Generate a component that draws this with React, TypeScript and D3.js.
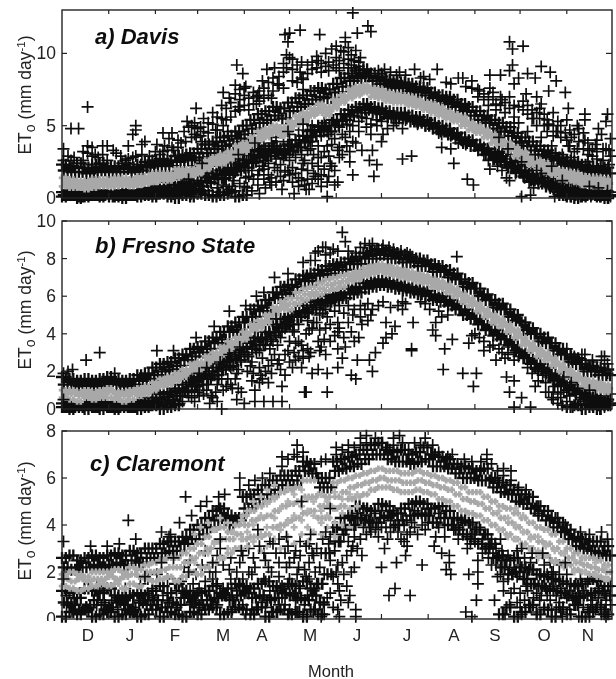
import React from "react";
import * as d3 from "d3";

const monthLabels = ["D","J","F","M","A","M","J","J","A","S","O","N"];
const monthLabelX = [88,130,175,223,262,310,357,407,454,495,544,588];
const monthStartDays = [31,62,90,121,151,182,212,243,274,304,335];

type Row = number[];
const gap = (n: number) => Array(n).fill(null);

// ---------- a) Davis ----------
const davisTop1 = [2.3,2.2,2.4,2.1,2.3,2.4,2.2,2.2,2.4,2.1,2.3,2.5,2.6,2.7,2.6,2.9,3.0,3.1,3.4,3.7,3.9,4.2,4.3,4.6,5.0,5.4,5.8,6.0,6.3,6.2,6.6,6.9,7.1,7.4,7.6,7.5,7.9,8.3,8.6,8.8,8.9,8.6,8.4,8.2,8.1,8.0,7.9,7.7,7.6,7.3,7.1,7.0,6.8,6.5,6.3,6.0,5.7,5.4,5.2,4.9,4.5,4.2,3.9,3.6,3.3,3.1,2.8,2.6,2.5,2.3,2.2,2.2,2.1];
const davisTop2 = [1.9,1.8,1.8,1.7,1.8,1.9,1.8,1.8,2.0,1.8,1.9,2.1,2.2,2.2,2.2,2.5,2.6,2.6,2.8,3.1,3.4,3.6,3.7,4.1,4.4,4.8,5.2,5.4,5.7,5.5,6.0,6.3,6.5,6.8,7.0,6.9,7.3,7.7,8.1,8.3,8.4,8.1,7.9,7.7,7.6,7.6,7.4,7.3,7.1,6.9,6.7,6.5,6.3,6.0,5.7,5.4,5.2,4.8,4.6,4.3,3.9,3.6,3.3,3.0,2.8,2.6,2.3,2.2,2.1,1.9,1.8,1.8,1.7];
const davisGrayHi = [1.4,1.3,1.2,1.2,1.3,1.3,1.3,1.4,1.4,1.3,1.5,1.5,1.7,1.7,1.7,2.0,2.0,2.0,2.3,2.6,2.8,3.0,3.2,3.6,3.8,4.2,4.6,4.8,5.0,4.9,5.3,5.7,5.9,6.2,6.5,6.3,6.8,7.1,7.5,7.7,7.8,7.6,7.5,7.3,7.2,7.1,7.0,6.8,6.6,6.5,6.3,6.0,5.8,5.6,5.2,5.0,4.7,4.4,4.1,3.8,3.5,3.2,2.9,2.6,2.4,2.1,1.9,1.8,1.7,1.5,1.4,1.4,1.3];
const davisGrayMid = [1.1,1.0,1.0,0.9,1.0,1.1,1.0,1.1,1.2,1.0,1.2,1.3,1.4,1.5,1.4,1.7,1.8,1.7,2.0,2.3,2.6,2.7,2.9,3.3,3.5,3.9,4.3,4.5,4.8,4.6,5.0,5.4,5.6,5.9,6.2,6.0,6.5,6.8,7.2,7.4,7.6,7.3,7.2,7.0,6.9,6.9,6.7,6.6,6.4,6.2,6.0,5.8,5.6,5.3,5.0,4.7,4.5,4.1,3.9,3.5,3.2,2.9,2.6,2.3,2.1,1.9,1.6,1.5,1.4,1.2,1.1,1.1,1.0];
const davisGrayLo = [0.8,0.7,0.7,0.6,0.7,0.8,0.8,0.8,0.9,0.8,0.9,1.0,1.1,1.2,1.2,1.4,1.5,1.5,1.7,2.0,2.3,2.4,2.6,3.0,3.2,3.6,4.0,4.2,4.5,4.3,4.7,5.1,5.3,5.7,5.9,5.7,6.2,6.6,6.9,7.1,7.3,7.0,6.9,6.7,6.6,6.6,6.4,6.3,6.1,5.9,5.7,5.5,5.3,5.0,4.7,4.5,4.2,3.8,3.6,3.3,2.9,2.6,2.3,2.0,1.8,1.6,1.3,1.2,1.1,0.9,0.8,0.8,0.7];
const davisLow1 = [.4,.3,.4,.3,.4,.5,.4,.4,.5,.4,.5,.6,.7,.8,.7,.9,1.0,1.0,1.2,1.5,1.7,1.9,2.0,2.4,2.6,3.0,3.3,3.4,3.6,3.4,3.7,4.0,4.3,4.7,5.0,5.0,5.4,5.8,6.1,6.3,6.5,6.3,6.2,6.0,5.9,5.9,5.7,5.6,5.4,5.2,5.0,4.8,4.5,4.2,4.0,3.7,3.4,3.1,2.9,2.5,2.2,1.9,1.6,1.4,1.2,1.0,.8,.7,.6,.5,.4,.4,.4];
const davisLow2 = [.2,.2,.1,.2,.2,.2,.1,.2,.2,.2,.3,.3,.3,.4,.3,.5,.6,.6,.8,1.1,1.3,1.4,1.6,1.9,2.1,2.5,2.8,2.9,3.1,3.0,3.3,3.5,3.9,4.3,4.6,4.6,5.0,5.4,5.7,5.9,6.1,5.9,5.8,5.6,5.5,5.5,5.3,5.2,5.0,4.8,4.6,4.4,4.1,3.8,3.6,3.3,3.0,2.7,2.5,2.1,1.8,1.5,1.2,1.0,.8,.6,.4,.3,.3,.2,.2,.2,.2];
const davisFloor = [.1,.2,.0,.1,.2,.1,.3,.1,.0,.2,.1,.2,.1,.3,.1,.0,.2,.1,.3,.2,.1,.2,.4,.1,.2,...gap(41),.2,.1,.0,.1,.3,.1,.0];
const davisGrayExtra: Row[] = [];
const davisDense: Row[] = [
  [8,2.8],[22,3.0],[39,2.9],[42,2.6],[58,.7,1.4,2.9],[62,.8,3.2],[65,.5,1.1,3.0],[68,.8,.4,3.6],[71,1.2,.6,4.1],[74,.9,.3,3.3],[77,1.3,.5,3.5,4.0],[79,.8,1.6,3.8],[81,1.1,2.0,4.6],[86,.9,1.8,.3,4.2,5.0],[88,.5,2.2,4.4,5.2],[92,1.1,1.9,.4,4.3,4.9],[94,.8,2.5,4.6,5.5],[97,1.7,.5,2.8,4.5,5.2],[99,1.0,2.2],[103,1.6,.7,2.9,4.7,5.6],[104,2.4,.4],[106,5.5,6.4],[107,1.9,.9,3.1],[108,2.6,1.3],[109,5.4,6.2],[111,1.7,.6,3.3],[112,5.6,6.6],[114,2.5,1.2,3.6],[115,1.8,.5,6.0,7.2,7.8],[118,2.7,1.0,3.3,6.1,6.8,7.5],[119,1.9,3.9],[121,3.0,2.1,.8,6.4,7.6],[124,2.6,1.5,3.4,4.1,6.1,6.9],[126,3.2,1.9,.5],[127,2.4,1.3,3.7,6.5,7.3],[130,2.8,1.6,.9,4.0],[131,1.9,3.4,6.7,7.4],[134,3.0,2.0,1.3,3.6,6.9,7.6],[135,2.6,.7],[137,3.4,1.6,2.4,7.1,8.0],[139,2.9,1.4,.9],[140,7.4,8.3],[141,3.6,2.1],[142,2.7,1.1,4.2],[144,7.8,8.4],[145,3.3,2.3,1.5],[147,3.9,2.8,1.2,4.5,7.6,8.7,9.3],[148,3.1,1.8],[151,2.6,1.6,3.6,4.4],[153,3.2,2.1,1.1,8.1,8.9,9.6],[155,4.0,2.8,1.7],[156,8.0,9.2],[157,3.5,1.4,.8,4.7],[159,3.0,2.0,1.2,8.3,9.4],[161,3.8,2.6,.9],[163,3.3,1.9,1.3,4.6,8.6,9.2],[166,2.4,3.9,1.0,5.0,8.9,9.4],[167,3.0,1.7],[169,9.0,9.8],[170,3.6,2.2,1.3,4.9],[172,2.8,1.6,.8,4.3,8.7,9.3],[174,3.2,2.0,5.2],[175,9.1,10.0],[177,4.4,2.9,1.5,9.4,8.8],[179,3.7,2.2,5.4],[181,4.1,1.9,.9],[182,9.0,9.7,10.5],[184,4.9,3.5,2.8,8.8,9.5],[186,4.4,5.3,3.0],[187,9.3,10.1],[189,5.1,3.6],[190,9.0,9.6,10.4],[191,4.6,3.2,5.6],[192,9.2,9.9],[193,5.0,3.9],[194,9.5,9.0],[197,5.3,4.6,9.1,9.4],[199,5.6,3.3],[200,8.9],[202,4.9,5.5],[205,5.1,4.4],[209,5.4,5.0],[210,8.8],[212,5.3,3.9,8.6],[216,5.5,4.8],[218,8.7],[220,5.6,5.0],[222,8.5],[228,5.4,8.5],[235,5.3],[238,8.3],[241,5.0],[244,5.2,8.2],[250,4.9,4.5],[255,4.6,8.0],[258,4.3,3.4,7.9],[262,4.4],[265,4.0],[268,3.7,7.7],[272,7.6,8.1],[276,7.5,7.0],[280,7.2,6.8,3.5,3.0],[283,7.0,6.4,3.4,2.6],[286,6.8,7.3],[287,2.7,3.2],[288,6.5,6.1],[289,2.2,3.0],[291,6.4,7.0],[292,3.1,1.9],[294,6.6,5.9],[295,2.7,2.3,1.4],[297,6.2,7.0],[298,2.2,3.0],[300,6.4,5.6],[301,2.6,1.7],[303,6.3,5.2],[304,1.9,2.8],[306,6.1,6.7],[307,2.3,1.4],[309,5.8,6.4],[310,2.6,1.7,1.1],[312,5.5,6.1,2.1,1.3],[315,5.9,5.0],[316,2.4,1.2],[317,5.5,6.2],[319,1.4,2.1],[320,5.0,5.8],[321,1.9,1.0],[322,5.4,4.6],[324,1.4,.7],[326,5.0,5.9,4.3,1.1,1.8],[329,4.6,5.3,.9,.4],[331,4.2,5.0,1.5,.5],[334,.7,.2],[335,4.0,5.4],[336,.5,1.0],[337,4.7,3.6],[339,.3,.7],[340,4.4,3.2],[341,.6,.2],[343,3.9,4.8],[344,.5,.1],[346,3.4,4.5],[347,.8,.3],[349,3.8,3.0],[352,3.4,2.9,.3,.5],[355,3.2,2.7,4.0,.2,.4],[359,3.4,2.6],[360,.2,.3],[364,2.9,4.1,.1,.4]
];
const davisScatter: Row[] = [
  [1,3.4,2.6],[4,2.9],[6,4.8,2.6],[11,4.8],[14,3.2,2.6],[17,6.3,3.6,3.1],[20,3.5,2.9],[24,2.8],[27,3.6,3.0],[30,3.6,2.6],[34,3.3],[36,3.1],[44,3.6,2.7],[47,4.4,2.8],[49,5.0,4.7,2.9],[53,3.7,3.0],[55,3.9],[63,3.7],[67,4.5,3.2],[70,3.3],[73,4.5,3.5],[82,3.9,.6],[83,5.3,.8],[84,4.9,1.3],[89,6.2,4.2],[90,4.8],[91,.6],[93,2.4,3.9],[95,3.7],[96,1.4],[100,5.9,5.1,.2],[102,4.7],[106,1.4],[107,7.3,5.0],[109,.8],[110,.3,4.6],[111,6.9],[112,2.1],[113,.8],[116,9.2],[117,6.3,3.0],[120,8.6,.2],[121,7.1],[122,7.7,1.4],[123,.7],[128,3.8],[129,6.5,7.0],[130,7.1],[131,.3],[132,3.2],[133,8.1,2.2],[136,8.9],[138,1.1],[139,6.9,3.8],[141,9.0],[143,7.9,3.2,1.9],[146,.6],[148,11.3],[149,9.9,9.0],[150,10.8,4.6,1.9],[151,11.4,9.7],[152,3.6],[154,.3],[158,11.6,8.7],[160,8.2,7.5,5.1,4.3,2.4],[162,.6],[164,.6],[165,4.2,3.4],[168,1.5],[169,4.3],[170,9.5,2.8],[171,11.3],[176,3.6,1.1,.1],[178,2.4],[179,10.3],[180,9.2],[183,3.3,1.1],[185,10.2],[188,11.1,10.8,4.2],[191,2.5],[193,12.8,1.6],[195,10.2,3.8],[196,11.4],[198,9.7],[203,11.9],[204,2.6],[205,11.5],[206,3.3],[207,1.5],[209,2.3],[213,4.4],[214,8.9],[222,5.2],[224,8.7],[226,4.8,2.7],[232,2.9],[234,8.9],[236,5.1],[240,8.4],[246,4.8],[249,8.9],[252,4.4,3.5],[260,2.4],[263,8.3,3.8],[266,8.3],[269,1.3],[273,.9],[274,3.6],[277,7.4],[284,8.5,7.6,2.0],[290,2.6,3.2,4.2],[291,8.5],[292,6.8],[296,2.1,3.4],[297,10.8,8.8,1.2],[299,10.3,9.2],[300,7.9,5.2],[303,8.3],[305,2.5,.1,3.8],[306,10.5],[308,7.2],[309,8.6,4.6],[311,.2],[313,.7,5.5],[314,8.3,3.0],[315,7.0,1.9],[318,9.1,6.5,1.7,4.2],[323,7.4,5.1],[324,8.7],[325,.8,2.2,3.6],[327,.1],[328,8.1,4.6],[332,1.2,3.0],[334,7.3,4.5],[336,6.2,3.6],[338,2.8,.1,4.2],[342,5.0,3.4],[345,.2],[347,5.8,5.4,4.0],[349,2.5],[350,.8,3.3],[351,.1],[354,3.7],[356,4.8,2.0,.7],[357,.1],[358,4.4],[361,5.3,3.4],[362,5.8,.5,0],[363,3.3,2.3]
];

// ---------- b) Fresno State ----------
const fresnoTop1 = [1.7,1.6,1.5,1.6,1.5,1.6,1.7,1.6,1.5,1.6,1.8,1.9,2.2,2.4,2.5,2.7,2.9,3.2,3.3,3.6,3.8,4.1,4.4,4.6,4.9,5.3,5.5,5.8,6.2,6.5,6.6,6.9,7.1,7.2,7.4,7.6,7.7,7.8,8.0,8.1,8.3,8.4,8.5,8.4,8.3,8.2,8.1,8.0,7.9,7.7,7.6,7.4,7.2,6.9,6.7,6.4,6.1,5.8,5.6,5.3,5.0,4.6,4.3,4.0,3.8,3.5,3.2,2.9,2.7,2.4,2.3,2.2,2.1];
const fresnoTop2 = [1.3,1.3,1.2,1.3,1.2,1.3,1.4,1.3,1.2,1.3,1.5,1.6,1.8,2.0,2.1,2.3,2.6,2.8,3.0,3.2,3.5,3.7,4.1,4.2,4.6,4.9,5.2,5.4,5.9,6.1,6.2,6.5,6.8,6.8,7.1,7.2,7.4,7.4,7.7,7.7,8.0,8.0,8.2,8.0,8.0,7.8,7.8,7.6,7.6,7.3,7.3,7.0,6.9,6.5,6.4,6.0,5.8,5.4,5.3,4.9,4.7,4.2,4.0,3.6,3.5,3.1,2.9,2.5,2.4,2.0,2.0,1.8,1.8];
const fresnoGrayHi = [1.0,1.0,.9,1.0,.9,1.0,1.1,.9,.9,1.0,1.1,1.2,1.4,1.6,1.7,1.9,2.1,2.4,2.5,2.8,3.0,3.3,3.6,3.8,4.1,4.5,4.7,5.0,5.4,5.7,5.9,6.2,6.4,6.5,6.7,6.9,7.0,7.1,7.2,7.3,7.5,7.6,7.7,7.6,7.5,7.4,7.3,7.2,7.1,6.9,6.8,6.6,6.4,6.1,5.9,5.6,5.3,5.0,4.8,4.5,4.2,3.8,3.5,3.2,3.0,2.7,2.4,2.1,1.9,1.6,1.5,1.4,1.3];
const fresnoGrayMid = [.8,.8,.7,.8,.7,.8,.9,.7,.7,.8,.9,1.0,1.2,1.4,1.5,1.7,1.9,2.2,2.3,2.6,2.8,3.1,3.4,3.6,3.9,4.3,4.5,4.8,5.2,5.5,5.6,5.9,6.1,6.2,6.4,6.6,6.7,6.8,7.0,7.1,7.3,7.4,7.5,7.4,7.3,7.2,7.1,7.0,6.9,6.7,6.6,6.4,6.2,5.9,5.7,5.4,5.1,4.8,4.6,4.3,4.0,3.6,3.3,3.0,2.8,2.5,2.2,1.9,1.7,1.4,1.3,1.2,1.1];
const fresnoGrayLo = [.6,.5,.4,.6,.5,.6,.6,.5,.4,.5,.7,.8,1.0,1.2,1.3,1.5,1.7,2.0,2.1,2.4,2.6,2.9,3.2,3.4,3.7,4.1,4.3,4.6,5.0,5.3,5.3,5.6,5.8,6.0,6.1,6.3,6.4,6.5,6.8,6.9,7.1,7.2,7.3,7.2,7.1,7.0,6.9,6.8,6.7,6.5,6.4,6.2,6.0,5.7,5.5,5.2,4.9,4.6,4.4,4.1,3.8,3.4,3.1,2.8,2.6,2.3,2.0,1.7,1.5,1.2,1.1,1.0,.9];
const fresnoLow1 = [.3,.3,.2,.3,.2,.3,.3,.2,.2,.3,.4,.4,.6,.8,.9,1.1,1.3,1.6,1.7,2.0,2.2,2.5,2.8,3.0,3.3,3.6,3.8,4.1,4.5,4.8,4.9,5.2,5.5,5.7,5.8,6.0,6.1,6.2,6.4,6.5,6.7,6.8,6.9,6.8,6.7,6.6,6.5,6.4,6.3,6.1,6.0,5.8,5.6,5.3,5.1,4.8,4.5,4.2,4.0,3.7,3.4,3.0,2.7,2.4,2.2,1.9,1.6,1.3,1.1,.8,.7,.6,.5];
const fresnoLow2 = [.1,.1,.1,.2,.1,.2,.1,.1,.1,.1,.2,.2,.3,.4,.5,.7,.9,1.2,1.3,1.6,1.8,2.1,2.3,2.6,2.8,3.2,3.4,3.7,4.1,4.4,4.5,4.9,5.1,5.3,5.5,5.7,5.8,5.9,6.1,6.2,6.4,6.5,6.6,6.5,6.4,6.3,6.2,6.1,6.0,5.8,5.7,5.5,5.3,5.0,4.8,4.5,4.2,3.9,3.7,3.4,3.1,2.7,2.4,2.1,1.9,1.6,1.3,1.0,.8,.5,.4,.3,.3];
const fresnoFloor = [.1,.0,.2,.0,.1,.0,.1,.0,.2,.1,.0,.1,.2,.0,.1,.2,...gap(51),.1,.2,.0,.1,.0,.2];
const fresnoGrayExtra: Row[] = [];
const fresnoDense: Row[] = [
  [55,.6],[60,.6,.3],[65,.9,.4],[70,.4,.8],[75,.5,1.0],[78,.3,.7],[82,.9,1.6],[86,.6,1.3,1.9],[88,.4,1.0],[90,1.5,.9,2.0],[94,.8,1.8],[97,1.3,2.3],[99,1.7,.7],[103,2.0,1.3,.4],[104,2.4,1.6],[107,2.9,2.1,1.0],[110,1.6,2.6],[112,1.3,2.9,2.2],[115,2.7,1.6,3.1],[117,2.1,1.1],[119,3.2,2.5,.9],[123,2.9,2.0,3.5],[126,3.3,2.5,1.5],[127,1.9,3.6],[131,3.1,2.2,1.4],[133,3.8,2.7,1.6],[135,3.4,2.0],[138,4.0,3.2],[139,2.6,1.9],[143,3.4,4.4,2.4],[145,3.8,2.1],[148,4.3,2.9,1.8,4.8],[151,3.6,4.7,2.5],[154,4.1,5.0,3.0],[157,4.5,3.6,2.8],[159,5.0,3.4,2.2],[163,4.7,5.2,3.2],[164,4.2,2.8],[165,7.9],[167,5.4,4.6],[168,8.3,7.9],[170,8.4],[171,5.0,4.2,3.1],[172,5.6,3.3],[175,5.3,4.3,2.9,8.2,8.6],[178,5.6,4.5,3.6,8.3],[181,5.2,3.9],[183,8.4],[184,5.5,4.3],[187,5.1,3.8],[190,5.5,4.6,8.4],[194,5.3,3.6],[195,8.3],[198,5.5,4.9,8.6],[203,5.6,4.7],[204,8.7],[209,8.5],[210,5.5],[213,5.7,8.7],[217,8.6],[223,5.5],[225,8.4],[226,5.7,5.3],[229,8.3],[241,5.6],[244,5.3],[252,4.9],[256,5.0],[272,3.9],[280,3.6,3.1],[286,3.4],[292,3.0],[296,3.3,2.9],[300,3.0,2.6],[303,2.8],[309,2.2,2.7],[312,1.9],[316,1.5,2.0],[321,1.4,.9],[323,.9,1.7],[326,.9,.5,1.5],[329,1.3,.8,.3],[331,.6,1.2],[335,.4,1.0,3.2],[337,.7,1.2],[340,2.8],[341,.3,.8],[344,.2,.6],[345,2.6,2.9],[347,.4,.9],[352,.2,.6,2.5,2.6],[356,.2],[360,.1,.7,2.6,2.8],[364,.2,.8]
];
const fresnoScatter: Row[] = [
  [1,1.9,.5],[4,2.0],[7,2.1],[16,2.6],[25,3.0],[35,1.9],[63,3.1],[74,3.1],[80,.4,1.0],[84,1.4,.7],[89,3.8,1.2],[91,.7,1.9],[93,1.6],[96,1.0,2.2],[98,.3],[100,1.8,.6],[101,4.4],[102,.9],[105,2.5],[106,0,1.6],[109,2.5,1.2],[111,5.2,2.9],[113,1.1],[116,1.9,.5],[118,3.3],[121,3.0,.3],[122,5.5],[125,2.3],[128,3.8,1.0,.4],[129,6.0,3.0],[132,3.7,1.8],[134,6.2,.4],[137,1.4,2.3],[140,.4,3.6],[141,7.0,2.9],[142,4.8,3.9],[144,2.6,4.2],[146,4.1,1.2,.4],[150,7.2,3.1,4.5],[153,4.2,2.2],[155,3.5,2.6],[160,7.8,3.1,2.7],[161,.9],[162,.9,4.0],[165,3.0],[166,1.9,4.3],[169,4.6],[170,2.1,3.6],[173,8.6,5.1],[174,3.7],[176,.9,1.9,4.9],[180,8.5],[183,4.6,3.2,2.2,4.1],[186,9.4,2.7],[188,8.9,3.3],[192,4.1,1.8],[193,5.0],[195,1.6],[196,2.6],[197,3.8],[199,4.5],[201,8.8,5.3],[204,2.6],[205,5.0],[206,8.8,5.3,2.0],[208,3.0],[213,3.5],[215,4.6,3.8],[218,5.4],[219,4.0],[220,8.5],[221,4.4],[228,5.6],[231,8.2],[232,3.2,3.1],[233,4.6],[238,5.7],[246,4.2],[248,4.6,3.9],[250,5.2],[253,2.1],[254,3.2],[259,3.7],[262,8.1],[266,1.9],[270,3.5],[273,1.2],[274,4.0],[275,1.9],[277,3.8],[284,3.3],[288,2.6],[290,3.2],[294,2.7],[295,1.7],[297,.9],[300,1.5,.1],[305,.6],[307,2.7],[311,.1],[314,1.2,2.2],[319,1.8],[325,.6],[327,1.2],[332,.2],[333,.9,1.7],[338,2.8,1.4],[339,.1],[342,1.1],[347,2.9],[350,.4,1.0],[354,.7,2.0],[357,0],[358,2.8],[362,1.9,.4,2.4]
];

// ---------- c) Claremont ----------
const claremontTop1 = [2.6,2.7,2.5,2.6,2.7,2.6,2.7,2.8,2.7,2.9,2.8,3.0,3.0,3.2,3.3,3.3,3.5,3.8,4.0,4.3,4.6,4.7,4.4,4.3,5.2,5.3,5.5,5.7,5.9,6.1,6.1,6.3,6.7,6.6,6.0,6.0,6.7,6.8,6.9,7.0,7.2,7.4,7.5,7.2,7.1,7.2,7.0,7.1,7.3,7.0,6.9,6.8,6.6,6.5,6.4,6.3,6.4,6.0,5.8,5.7,5.5,5.3,5.2,4.8,4.6,4.3,4.1,3.8,3.5,3.4,3.3,3.3,3.1];
const claremontTop2 = [2.2,2.1,2.2,2.2,2.3,2.2,2.3,2.4,2.3,2.5,2.4,2.6,2.6,2.8,2.9,2.9,3.2,3.4,3.6,3.9,4.2,4.3,4.0,4.2,4.7,4.9,5.1,5.3,5.5,5.7,5.7,5.9,6.3,6.2,5.6,5.6,6.3,6.4,6.5,6.6,6.8,7.0,7.0,6.8,6.7,6.7,6.6,6.7,6.8,6.5,6.5,6.4,6.2,6.0,6.0,5.9,5.9,5.6,5.4,5.3,5.0,4.9,4.7,4.4,4.2,3.9,3.7,3.4,3.1,3.0,2.9,2.8,2.7];
const claremontGrayHi = [1.9,2.0,1.9,1.8,2.0,2.0,2.0,2.1,2.0,2.2,2.1,2.3,2.4,2.5,2.6,2.6,2.8,3.0,3.2,3.5,3.8,3.9,3.7,4.0,4.4,4.6,4.8,5.0,5.2,5.4,5.5,5.6,5.9,5.9,5.3,5.2,5.8,5.9,6.0,6.1,6.2,6.3,6.4,6.3,6.3,6.2,6.2,6.3,6.2,6.1,6.0,5.9,5.8,5.6,5.4,5.4,5.2,5.0,4.8,4.7,4.5,4.3,4.1,3.9,3.8,3.6,3.3,3.0,2.8,2.6,2.6,2.5,2.3];
const claremontGrayMid = [1.7,1.6,1.7,1.6,1.7,1.7,1.8,1.7,1.8,1.9,1.8,2.0,2.0,2.1,2.2,2.2,2.4,2.6,2.8,3.0,3.3,3.4,3.4,3.6,4.0,4.2,4.3,4.4,4.6,4.8,4.9,5.0,5.2,5.2,4.8,4.8,5.2,5.4,5.6,5.7,5.8,5.9,6.0,5.9,5.9,5.8,5.8,5.9,5.8,5.7,5.6,5.5,5.3,5.1,5.0,4.9,4.7,4.5,4.3,4.1,3.9,3.7,3.5,3.3,3.2,3.0,2.8,2.6,2.4,2.3,2.2,2.1,2.0];
const claremontGrayLo = [1.4,1.3,1.2,1.3,1.4,1.5,1.4,1.5,1.3,1.5,1.4,1.7,1.6,1.7,1.8,1.6,1.8,2.0,1.9,2.2,2.4,2.6,2.8,3.0,3.4,3.5,3.5,3.6,3.9,4.0,4.2,4.3,4.5,4.6,4.3,4.3,4.7,4.8,5.1,5.2,5.3,5.5,5.6,5.6,5.5,5.4,5.4,5.5,5.4,5.3,5.1,5.0,4.8,4.6,4.5,4.4,4.2,4.0,3.8,3.6,3.4,3.2,3.0,2.8,2.7,2.5,2.4,2.3,2.1,2.0,1.9,1.8,1.7];
const claremontLow1 = [1.2,1.1,.9,1.3,1.2,1.1,1.3,1.0,.9,1.0,1.1,1.0,1.2,1.4,1.1,1.5,1.2,1.0,1.1,1.2,1.4,1.1,1.3,1.5,1.4,1.3,1.5,1.6,1.4,1.3,1.5,1.4,1.6,1.3,1.5,2.8,3.9,4.3,4.4,4.8,4.7,4.6,4.9,4.8,4.5,4.7,4.9,5.0,4.9,4.7,4.8,4.6,4.3,4.2,4.1,3.8,3.6,3.2,2.7,2.5,2.6,2.2,2.1,1.9,1.8,1.7,1.6,1.5,1.4,1.5,1.7,1.6,1.4];
const claremontLow2 = [.7,.6,.4,.5,.8,.6,.5,.7,.6,.4,.7,.6,.8,.5,.7,.6,.9,.7,.6,.8,.9,1.0,.8,1.0,1.1,.9,1.0,.8,.9,1.1,1.0,.9,.8,1.0,.7,1.9,3.3,3.8,4.0,4.3,4.2,4.1,4.3,4.4,4.0,4.2,4.4,4.5,4.4,4.1,4.3,4.0,3.8,3.6,3.4,3.2,3.0,2.6,2.2,1.9,2.0,1.7,1.5,1.4,1.3,1.2,1.1,1.0,.9,1.0,1.1,1.2,1.0];
const claremontFloor = [.1,.3,.2,.4,.1,.2,.3,.1,.2,.3,.1,.2,.4,.1,.3,.2,.1,.3,.2,.4,.5,.2,.3,.5,.4,.2,.5,.1,.3,.4,.2,.3,.1,.4,.2,...gap(23),.2,.5,.1,.3,.6,.2,.4,.1,.5,.2,.6,.1,.3,.5,.2];
const claremontGrayExtra: Row[] = [
  [88,2.4,3.6],[92,2.2,3.9],[97,2.8,4.1],[101,3.2,3.8],[105,2.6,4.3],[110,3.0,4.1],[114,2.9,3.7],[119,3.4,4.2,3.0],[123,3.7,4.6,3.1],[127,3.3,4.0,5.0],[132,3.6,4.4,5.2,2.9],[136,3.1,3.9,4.9,5.5],[141,3.4,4.3,5.1,5.7],[145,3.0,3.8,4.7,5.4],[150,3.5,4.1,5.0,5.6],[154,3.2,3.9,4.4,5.3],[159,3.6,4.2,4.8,5.5],[163,3.3,3.9,4.6,5.1],[167,3.7,4.4,5.0],[172,3.6,4.1,4.6,5.3],[176,3.9,4.4,5.0],[181,3.5,4.1,4.7,5.4],[186,4.0,4.5,5.1],[191,3.9,4.7,5.3],[196,4.8,5.3],[290,3.8,4.6],[296,3.5,4.3],[301,3.4,4.0,4.7],[306,3.1,3.7,4.4],[311,3.0,3.4],[316,2.9,3.5,2.6],[321,2.7,3.1],[327,2.4,2.9],[333,2.2,2.8],[340,2.0,2.5],[347,2.0,2.6],[354,1.9,2.4],[361,1.7,2.2]
];
const claremontDense: Row[] = [
  [3,1.0,.6],[8,.9],[12,1.1],[16,.5],[23,.6,1.4],[28,1.2,.7],[33,.8],[37,.9,.4],[42,1.3,.6],[47,1.0,.5],[52,1.5,.8],[57,1.7,1.1],[60,.9,1.3],[63,1.9,.6],[66,3.7],[67,1.4,1.0],[70,1.7,.8],[71,3.5],[76,1.2,.5],[78,4.1],[79,1.6,.9],[81,2.2,1.1],[85,2.5,.6,1.2],[86,4.4],[89,1.9,1.0],[91,.5,1.3],[92,4.8],[93,2.3,.8],[95,1.6,2.9],[96,5.0],[98,2.0,1.2],[103,2.7,1.5,.6],[104,5.2,4.8],[107,1.3,2.3],[108,5.3],[112,1.7,2.6],[113,.9,.4],[116,2.0,1.2],[118,5.5,6.0],[120,1.7,2.7,.6],[124,1.1,2.0,3.0,5.7],[126,1.9,.4],[128,5.9],[133,6.0],[134,1.7,2.8,1.0],[135,2.5,.5],[138,1.2,.9,3.3,6.2],[139,2.0,.3],[144,2.4,1.8,.6,3.4],[146,1.4,.9,6.5,6.9],[148,2.8,.6],[150,6.8],[151,1.7,2.4,.4],[154,7.0],[155,1.1,2.9,.8],[156,1.9,.3,7.4,6.9],[158,2.7,1.3,3.3],[160,7.1,6.5],[161,2.1,.6],[164,1.7,2.4,.8,3.2],[167,1.2,2.7,.3],[169,3.0,1.5],[171,2.2,.7],[172,6.7],[173,1.5,3.4],[174,1.9,.6,.2],[175,6.8],[178,2.5,1.1,3.5],[180,1.8,.5],[181,2.9,3.6],[182,7.0,7.3],[183,2.3,1.5,.4],[185,3.3,.8],[186,7.2],[187,1.9,3.6],[189,2.7,1.4],[190,.7,3.3,7.1,7.4],[192,2.9,4.3],[194,2.2,3.5,7.3],[196,3.0,4.5],[198,3.4,4.3,7.7,7.4],[200,3.9,4.7],[202,3.6,4.4,7.8,7.5],[205,4.1,3.7],[208,3.8,4.5,7.7],[210,3.5,4.1],[212,3.9,4.6,7.5],[216,7.3],[218,4.2,3.7],[220,4.6,3.9,7.7,7.4],[223,3.7,4.2],[224,7.8],[225,3.4,4.5],[226,7.5],[227,4.0,3.3],[230,7.2],[231,3.7,4.4],[234,3.9,4.6,7.5],[238,7.4],[241,4.4,3.8,7.7],[243,4.1,4.7],[246,7.4,7.0],[250,4.5,3.9,7.1,6.9],[254,4.0,3.5],[256,6.9],[259,7.0],[260,4.3,3.8],[263,3.9,3.4],[266,4.1,3.6],[267,6.8,6.5],[269,3.5,3.0],[271,4.0,3.2],[272,6.7],[274,3.3,3.7],[278,6.7,6.4],[279,3.4,2.8],[281,3.6,3.0],[282,7.0,6.8],[283,2.6,3.1],[285,3.4,2.3,6.6],[288,3.0,2.3],[289,1.8,2.6,6.3,5.9],[292,2.9,2.2],[293,1.6,1.2,6.4,6.1],[296,2.7,1.7],[297,2.1,.6],[298,6.3,5.9],[300,2.6,1.3,2.2],[302,1.8,2.9],[303,5.6,5.3],[304,2.3,1.1,.5],[307,2.6,1.7,.8],[308,5.5],[309,2.0,1.2],[311,2.4,.5],[313,1.5,2.1,.9],[315,2.6,1.1,.3],[316,4.8,4.5],[317,1.9,.8],[320,2.3,1.4,.5,4.6],[322,1.0,1.9],[324,2.4,.8],[326,1.4,2.0],[328,1.0,.4],[329,4.3],[330,1.9,.7,2.3],[331,1.3,.3],[334,4.0],[335,1.9,.9],[337,1.2,.4],[341,.6,1.5],[344,1.7,.9,3.7],[346,.5,1.2],[349,1.6,.4],[350,3.6,3.3],[351,1.0,.6],[354,1.8,.4],[356,.9,1.3],[358,.6,.2,3.7],[360,1.1,.4],[362,3.4],[364,1.4,.6]
];
const claremontScatter: Row[] = [
  [1,3.3,1.7],[19,3.1],[20,2.7],[30,3.1],[38,3.2],[44,4.2],[49,3.4],[55,1.8],[66,2.4],[72,3.6],[74,2.6],[82,5.2],[84,2.0],[87,1.5],[100,2.4,1.7],[102,2.0],[105,3.4,3.0],[109,1.0],[111,2.1],[118,2.4,1.4],[119,2.9],[122,.2],[127,2.6],[128,2.2],[129,.4],[130,3.8],[131,3.1],[133,.7],[137,2.2],[140,3.2],[142,2.8],[143,1.2,.3],[149,3.5,2.2],[150,3.1],[153,1.4],[154,2.6],[157,2.2],[159,5.0],[160,.2],[162,3.1,1.8],[163,1.0],[165,3.6],[166,2.8],[168,2.0,.4],[172,2.8,.1],[175,3.7],[176,.9],[177,3.2],[178,4.7],[182,2.0],[184,1.2,.1],[186,2.4],[188,3.8],[191,1.0],[192,2.0],[193,3.1],[195,4.0,.4,.1],[199,2.7],[204,3.9],[212,2.2],[214,3.0],[215,3.9],[216,3.4],[217,1.0],[221,1.3],[222,2.4],[228,2.7],[229,3.6,3.1],[231,1.0],[232,4.1],[236,3.6],[239,4.0,2.3],[246,4.1],[247,3.1],[248,3.5],[252,2.8],[255,2.1],[257,2.7,2.4],[258,1.9],[268,.3],[270,1.9],[272,3.6,.1],[275,.8],[276,2.5,2.0,1.5],[277,3.9],[284,3.2],[286,2.8],[287,.8],[291,3.4,1.9],[294,2.5,.2],[298,1.1],[299,1.9],[302,.7],[305,3.0,.2],[308,1.4],[312,2.8],[318,1.0],[319,2.8],[325,2.0,.4],[332,.1],[334,2.4],[339,.8],[343,1.1,.1],[350,.1],[352,.8],[361,.8,.3,.1]
];

const panels = [
  { title: "a) Davis", tx: 95, ty: 44, top: 10, bottom: 198, domain: [0,13], ticks: [0,5,10], labelY: 95,
    black: [davisTop1,davisTop2,davisLow1,davisLow2,davisFloor], gray: [davisGrayHi,davisGrayMid,davisGrayLo], grayExtra: davisGrayExtra, dense: davisDense, scatter: davisScatter },
  { title: "b) Fresno State", tx: 95, ty: 253, top: 221, bottom: 409, domain: [0,10], ticks: [0,2,4,6,8,10], labelY: 310,
    black: [fresnoTop1,fresnoTop2,fresnoLow1,fresnoLow2,fresnoFloor], gray: [fresnoGrayHi,fresnoGrayMid,fresnoGrayLo], grayExtra: fresnoGrayExtra, dense: fresnoDense, scatter: fresnoScatter },
  { title: "c) Claremont", tx: 90, ty: 471, top: 431, bottom: 619, domain: [0,8], ticks: [0,2,4,6,8], labelY: 521,
    black: [claremontTop1,claremontTop2,claremontLow1,claremontLow2,claremontFloor], gray: [claremontGrayHi,claremontGrayMid,claremontGrayLo], grayExtra: claremontGrayExtra, dense: claremontDense, scatter: claremontScatter },
];

const FONT = "'Liberation Sans', Arial, sans-serif";
const LEFT = 62, RIGHT = 612;
const x = d3.scaleLinear().domain([0, 365]).range([LEFT, RIGHT]);

const plus = (px: number, py: number, s: number) =>
  `M${(px - s).toFixed(1)},${py.toFixed(1)}H${(px + s).toFixed(1)}M${px.toFixed(1)},${(py - s).toFixed(1)}V${(py + s).toFixed(1)}`;

// each 5-day value is marked twice within its 5-day slot, so the band reads as solid
function seriesPath(rows: (number | null)[][], y: d3.ScaleLinear<number, number>, s: number) {
  return rows
    .map((vals, k) =>
      vals
        .map((v, i) => {
          if (v == null) return "";
          const d0 = i * 5 + (k % 2 ? 1.2 : 0);
          return plus(x(d0), y(v), s) + plus(x(d0 + 2.5), y(v), s);
        })
        .join("")
    )
    .join("");
}
function rowPath(rows: Row[], y: d3.ScaleLinear<number, number>, s: number) {
  return rows.map(([d, ...vals]) => vals.map((v) => plus(x(d), y(v), s)).join("")).join("");
}

export default function App() {
  return (
    <svg width={616} height={679} style={{ position: "absolute", left: 0, top: 0, background: "#fff" }} fontFamily={FONT}>
      <defs>
        <filter id="soft" x="0" y="0" width="100%" height="100%">
          <feGaussianBlur stdDeviation="0.4" />
        </filter>
      </defs>
      <g filter="url(#soft)">
        {panels.map((p) => {
          const y = d3.scaleLinear().domain(p.domain).range([p.bottom, p.top]);
          return (
            <g key={p.title}>
              <path d={seriesPath(p.black, y, 6)} stroke="#0c0c0c" strokeWidth={2.3} fill="none" />
              <path d={rowPath(p.dense, y, 6)} stroke="#111" strokeWidth={1.7} fill="none" />
              <path d={seriesPath(p.gray, y, 3.2)} stroke="#a8a8a8" strokeWidth={2.8} fill="none" />
              <path d={rowPath(p.grayExtra, y, 3.5)} stroke="#b0b0b0" strokeWidth={2.4} fill="none" />
              <path d={rowPath(p.scatter, y, 6)} stroke="#111" strokeWidth={1.7} fill="none" />
              <rect x={LEFT} y={p.top} width={RIGHT - LEFT} height={p.bottom - p.top} fill="none" stroke="#222" strokeWidth={1.4} />
              {monthStartDays.map((d) => (
                <g key={d} stroke="#222" strokeWidth={1.2}>
                  <line x1={x(d)} x2={x(d)} y1={p.top} y2={p.top + 4} />
                  <line x1={x(d)} x2={x(d)} y1={p.bottom} y2={p.bottom - 5} />
                </g>
              ))}
              {p.ticks.map((t) => (
                <g key={t}>
                  <line x1={LEFT} x2={LEFT + 5} y1={y(t)} y2={y(t)} stroke="#222" strokeWidth={1.2} />
                  <line x1={RIGHT} x2={RIGHT - 6} y1={y(t)} y2={y(t)} stroke="#222" strokeWidth={1.2} />
                  <text x={56} y={y(t) + 6} textAnchor="end" fontSize={17.5} fill="#222">{t}</text>
                </g>
              ))}
              <text x={p.tx} y={p.ty} fontSize={22} fontWeight="bold" fontStyle="italic" fill="#111">{p.title}</text>
              <text transform={`translate(31,${p.labelY}) rotate(-90)`} textAnchor="middle" fontSize={17.5} fill="#222">
                ET<tspan fontSize={14} dy={4}>o</tspan>
                <tspan dy={-4}> (mm day</tspan>
                <tspan fontSize={11.5} dy={-6}>-1</tspan>
                <tspan dy={6}>)</tspan>
              </text>
            </g>
          );
        })}
        <rect x={44} y={621} width={14} height={8} fill="#fff" />
        {monthLabels.map((m, i) => (
          <text key={i} x={monthLabelX[i]} y={641} textAnchor="middle" fontSize={17} fill="#222">{m}</text>
        ))}
        <text x={331} y={677} textAnchor="middle" fontSize={16.5} fill="#222">Month</text>
      </g>
    </svg>
  );
}
